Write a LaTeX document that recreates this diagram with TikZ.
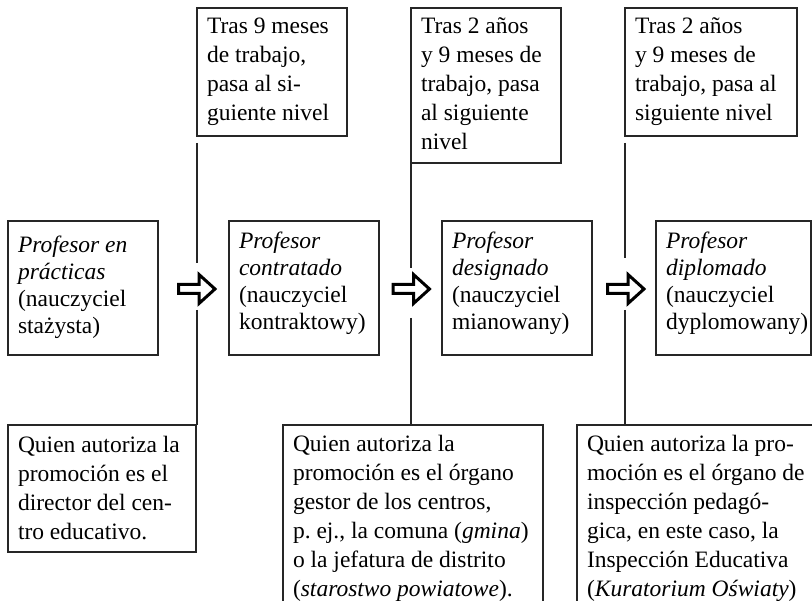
\documentclass[tikz,border=0pt]{standalone}
\usepackage{fontspec}
\setmainfont{Liberation Serif}
\usetikzlibrary{calc}
% width, height, baselineskip, first-line height, text
\newcommand{\boxtxt}[5]{\parbox[c][#2pt][t]{#1pt}{\raggedright\hyphenpenalty=10000\fontsize{23.5pt}{#3pt}\selectfont\rule{0pt}{#4pt}#5\par}}
\begin{document}
\begin{tikzpicture}[x=1pt,y=-1pt,
  box/.style={draw=black!85, line width=1.2pt, anchor=north west, inner xsep=10pt, inner ysep=0pt, outer sep=0pt},
  link/.style={draw=black!85, line width=1.2pt},
  blockarrow/.style={draw=black, line width=3pt, fill=white, line join=miter}]
\clip (0,0) rectangle (812,601);
\fill[white] (0,0) rectangle (812,601);
% main boxes
\node[box] (m1) at (8,221)   {\boxtxt{130}{134}{27}{32}{\textit{Profesor~en}\\\textit{prácticas}\\(nauczyciel\\stażysta)}};
\node[box] (m2) at (229,221) {\boxtxt{130}{134}{27}{28}{\textit{Profesor}\\\textit{contratado}\\(nauczyciel\\kontraktowy)}};
\node[box] (m3) at (442,221) {\boxtxt{130}{134}{27}{28}{\textit{Profesor}\\\textit{designado}\\(nauczyciel\\mianowany)}};
\node[box] (m4) at (656,221) {\boxtxt{135}{134}{27}{28}{\textit{Profesor}\\\textit{diplomado}\\(nauczyciel\\dyplomowany)}};
% top boxes
\node[box] (t1) at (197,8) {\boxtxt{130}{128}{29}{26}{Tras~9~meses\\de~trabajo,\\pasa~al~si-\\guiente~nivel}};
\node[box] (t2) at (411,8) {\boxtxt{130}{155}{29}{26}{Tras~2~años\\y~9~meses~de\\trabajo,~pasa\\al~siguiente\\nivel}};
\node[box] (t3) at (625,8) {\boxtxt{152}{128}{29}{26}{Tras~2~años\\y~9~meses~de\\trabajo,~pasa~al\\siguiente~nivel}};
% bottom boxes
\node[box] (b1) at (8,425)   {\boxtxt{168}{127}{29}{28}{Quien~autoriza~la\\promoción~es~el\\director~del~cen-\\tro~educativo.}};
\node[box] (b2) at (283,425) {\boxtxt{240}{195}{29}{27}{Quien~autoriza~la\\promoción~es~el~órgano\\gestor~de~los~centros,\\p.~ej.,~la~comuna~(\textit{gmina})\\o~la~jefatura~de~distrito\\(\textit{starostwo~powiatowe}).}};
\node[box] (b3) at (577,425) {\boxtxt{240}{195}{29}{27}{Quien~autoriza~la~pro-\\moción~es~el~órgano~de\\inspección~pedagó-\\gica,~en~este~caso,~la\\Inspección~Educativa\\(\textit{Kuratorium~Oświaty})}};
% gap coordinates and arrow centres
\coordinate (g1a) at (197,263); \coordinate (g1b) at (197,310);
\coordinate (g2a) at (411,268); \coordinate (g2b) at (411,318);
\coordinate (g3a) at (625,258); \coordinate (g3b) at (625,310);
\coordinate (a1) at (197,289);
\coordinate (a2) at (411.5,289);
\coordinate (a3) at (626,289);
% connectors
\draw[link] ($(t1.south west)+(0,7)$) -- (g1a);
\draw[link] (g1b) -- (g1b |- b1.north);
\draw[link] (t2.south west) -- (g2a);
\draw[link] (g2b) -- (g2b |- b2.north);
\draw[link] ($(t3.south west)+(0,7)$) -- (g3a);
\draw[link] (g3b) -- (g3b |- b3.north);
% block arrows
\foreach \a in {a1,a2,a3}{
  \draw[blockarrow] (\a) ++(-18.5,-4.5) -- ++(20.5,0) -- ++(0,-10) -- ++(16,14.5) -- ++(-16,14.5) -- ++(0,-10) -- ++(-20.5,0) -- cycle;
}
\end{tikzpicture}
\end{document}
